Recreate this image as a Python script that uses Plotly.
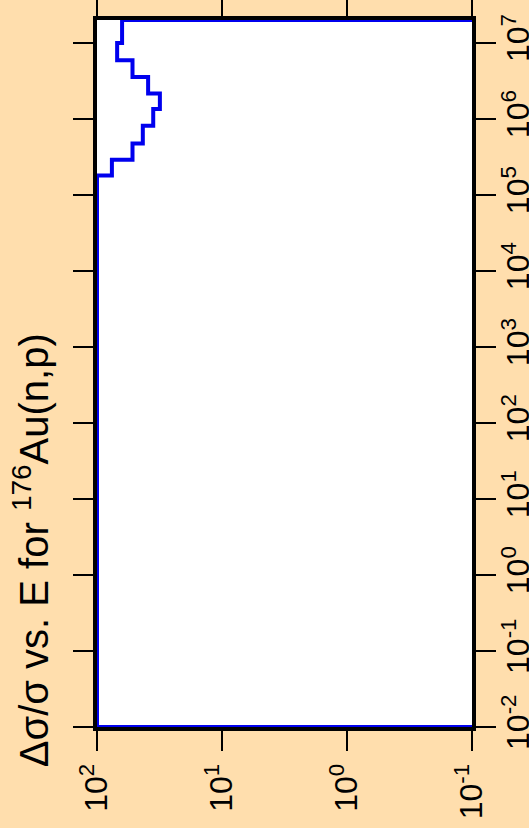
import plotly.graph_objects as go
import math

# ---- data ----
energy_edges = [1e-2, 1.8e5, 2.9e5, 4.75e5, 8.1e5, 1.35e6, 2.16e6, 3.57e6, 5.93e6, 1e7, 2e7]
rel_unc = [100, 76, 52, 43, 35.5, 31.4, 39, 52, 69, 63]
floor_value = 1e-3

e_tickvals = [1e-2, 1e-1, 1e0, 1e1, 1e2, 1e3, 1e4, 1e5, 1e6, 1e7]
e_ticktext = ["10<sup>-2</sup>", "10<sup>-1</sup>", "10<sup>0</sup>", "10<sup>1</sup>",
              "10<sup>2</sup>", "10<sup>3</sup>", "10<sup>4</sup>", "10<sup>5</sup>",
              "10<sup>6</sup>", "10<sup>7</sup>"]
u_tickvals = [1e2, 1e1, 1e0, 1e-1]
u_ticktext = ["10<sup>2</sup>", "10<sup>1</sup>", "10<sup>0</sup>", "10<sup>-1</sup>"]

title_text = "Δσ/σ vs. E for <sup>176</sup>Au(n,p)"

# ---- build step outline ----
xs = [floor_value]
ys = [energy_edges[0]]
for i, v in enumerate(rel_unc):
    xs += [v, v]
    ys += [energy_edges[i], energy_edges[i + 1]]
xs.append(floor_value)
ys.append(energy_edges[-1])

BG = "#FFDEAD"
FONT = "Liberation Sans, Arial, sans-serif"

fig = go.Figure()
fig.add_trace(go.Scatter(x=xs, y=ys, mode="lines",
                         line=dict(color="#0000EE", width=4),
                         hoverinfo="skip", showlegend=False))

fig.update_layout(
    width=529, height=828,
    paper_bgcolor=BG, plot_bgcolor="white",
    margin=dict(l=97, r=57, t=20, b=101),
    font=dict(family=FONT, size=32, color="black"),
    xaxis=dict(type="log", range=[2, -1], showgrid=False, zeroline=False,
               showline=True, linecolor="black", linewidth=4, mirror="ticks",
               ticks="outside", ticklen=20, tickwidth=2, tickcolor="black",
               tickvals=u_tickvals, ticktext=u_ticktext, tickangle=-90,
               tickfont=dict(size=32, family=FONT), layer="below traces",
               automargin=False),
    yaxis=dict(type="log", range=[-2, math.log10(energy_edges[-1])], showgrid=False,
               zeroline=False, side="right",
               showline=True, linecolor="black", linewidth=4, mirror="ticks",
               ticks="outside", ticklen=20, tickwidth=2, tickcolor="black",
               tickvals=e_tickvals, ticktext=e_ticktext, tickangle=-90,
               tickfont=dict(size=32, family=FONT), layer="below traces",
               ticklabelstandoff=-5, automargin=False),
    annotations=[dict(text=title_text, textangle=-90, xref="paper", yref="paper",
                      x=-0.176, y=0.25, xanchor="center", yanchor="middle",
                      showarrow=False, font=dict(size=40, family=FONT, color="black"))],
)

fig.write_html("out.html", config={"displayModeBar": False},
               post_script="document.body.style.margin='0';"
                           "document.body.style.background='#FFDEAD';"
                           "document.body.style.overflow='hidden';")
